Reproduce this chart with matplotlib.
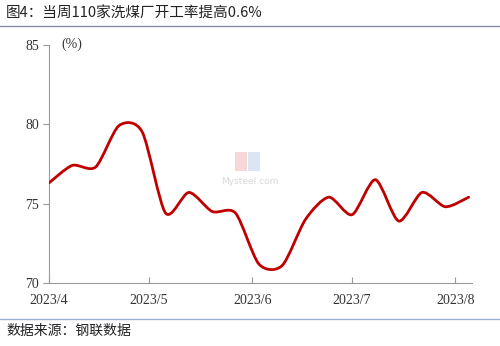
import numpy as np
import pandas as pd
import matplotlib
matplotlib.use("Agg")
import matplotlib.pyplot as plt
import matplotlib.dates as mdates
from matplotlib.path import Path
from matplotlib.patches import PathPatch, Rectangle

plt.rcParams['font.family'] = ['Noto Sans CJK SC', 'DejaVu Sans']

# weekly operating rate of 110 coal washing plants (%)
dates = pd.date_range("2023-04-01", "2023-08-05", freq="7D")
rate = [76.3, 77.4, 77.3, 79.9, 79.5, 74.4, 75.7, 74.5, 74.4, 71.2,
        71.1, 74.0, 75.4, 74.3, 76.5, 73.9, 75.7, 74.8, 75.4]
xtick_dates = ["2023-04-01", "2023-05-01", "2023-06-01", "2023-07-01", "2023-08-01"]
xtick_labels = ["2023/4", "2023/5", "2023/6", "2023/7", "2023/8"]
yticks = [70, 75, 80, 85]

fig = plt.figure(figsize=(5, 3.46), dpi=100)
ax = fig.add_axes([0.098, 0.182, 0.846, 0.689])

# smoothed line like excel: cardinal spline -> bezier segments
x = mdates.date2num(dates)
y = np.array(rate)
k = 0.8 / 6  # tension
verts = [(x[0], y[0])]
codes = [Path.MOVETO]
for i in range(len(x) - 1):
    p0 = (x[i - 1], y[i - 1]) if i > 0 else (x[i], y[i])
    p1 = (x[i], y[i])
    p2 = (x[i + 1], y[i + 1])
    p3 = (x[i + 2], y[i + 2]) if i + 2 < len(x) else (x[i + 1], y[i + 1])
    c1 = (p1[0] + (p2[0] - p0[0]) * k, p1[1] + (p2[1] - p0[1]) * k)
    c2 = (p2[0] - (p3[0] - p1[0]) * k, p2[1] - (p3[1] - p1[1]) * k)
    verts += [c1, c2, p2]
    codes += [Path.CURVE4] * 3
ax.add_patch(PathPatch(Path(verts, codes), facecolor="none", edgecolor="#C00000",
                       lw=2.0, capstyle="round", joinstyle="round", zorder=3))

ax.set_xlim(mdates.date2num(pd.Timestamp("2023-04-01")), mdates.date2num(pd.Timestamp("2023-08-06")))
ax.set_ylim(70, 85)
ax.set_xticks(mdates.date2num(pd.to_datetime(xtick_dates)))
ax.set_xticklabels(xtick_labels, family="Liberation Serif", fontsize=10, color="#333333")
ax.set_yticks(yticks)
ax.set_yticklabels([str(v) for v in yticks], family="Liberation Serif", fontsize=10, color="#333333")
ax.tick_params(axis="x", direction="in", length=4, color="#999999", pad=8)
ax.tick_params(axis="y", direction="out", length=4, color="#999999", pad=3)
for s in ["top", "right"]:
    ax.spines[s].set_visible(False)
for s in ["left", "bottom"]:
    ax.spines[s].set_color("#999999")
    ax.spines[s].set_linewidth(0.8)

ax.text(0.03, 1.0, "(%)", transform=ax.transAxes, ha="left", va="center",
        family="Liberation Serif", fontsize=10, color="#333333")

# watermark
ax.add_patch(Rectangle((0.44, 0.47), 0.028, 0.08, transform=ax.transAxes,
                       facecolor="#f6d8d8", edgecolor="none", zorder=1))
ax.add_patch(Rectangle((0.47, 0.47), 0.028, 0.08, transform=ax.transAxes,
                       facecolor="#dbe5f3", edgecolor="none", zorder=1))
ax.text(0.475, 0.425, "Mysteel.com", transform=ax.transAxes, ha="center", va="center",
        family="DejaVu Sans", fontsize=6.5, color="#d8d8d8", zorder=1)

fig.text(0.012, 0.962, "图4：当周110家洗煤厂开工率提高0.6%", ha="left", va="center",
         fontsize=10.5, color="#222222")
fig.add_artist(plt.Line2D([0, 1], [0.925, 0.925], transform=fig.transFigure,
                          color="#8a8fa8", lw=1.0))
fig.add_artist(plt.Line2D([0, 1], [0.078, 0.078], transform=fig.transFigure,
                          color="#9fb0d6", lw=1.0))
fig.text(0.012, 0.043, "数据来源：钢联数据", ha="left", va="center",
         fontsize=10, color="#222222")

fig.savefig("out.png", dpi=100)
